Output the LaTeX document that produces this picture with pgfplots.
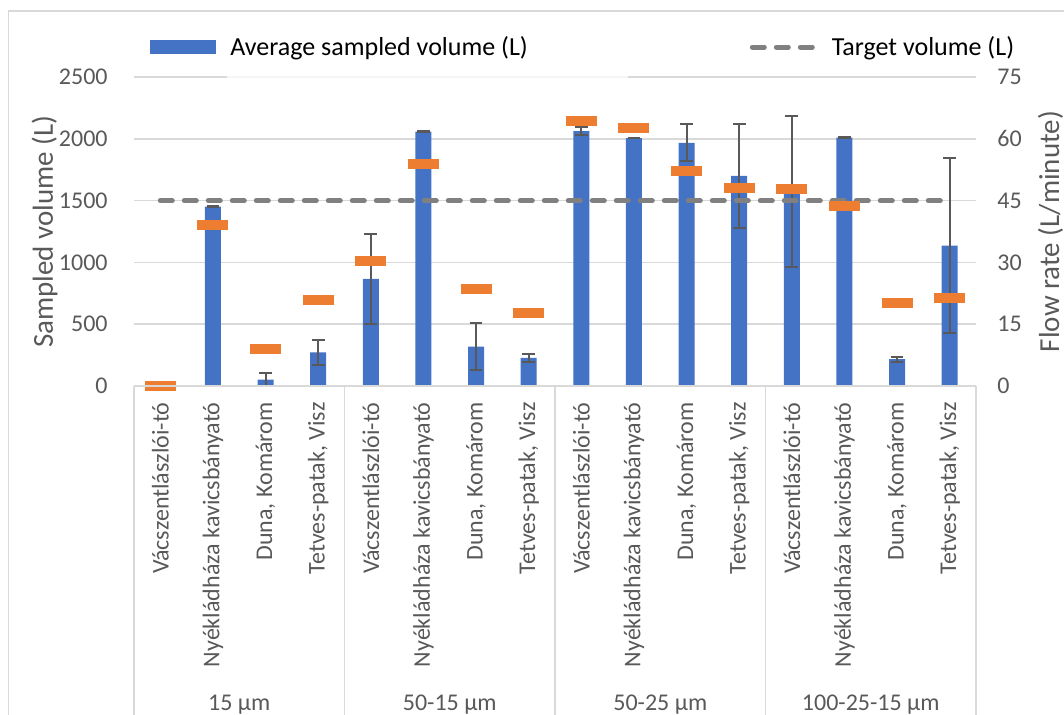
\documentclass[border=0pt]{standalone}
\usepackage{pgfplots}
\usepackage{pgfplotstable}
\pgfplotsset{compat=1.18}
\usetikzlibrary{calc}
\usepackage{fontspec}
\setmainfont{Carlito}

\definecolor{barblue}{HTML}{4472C4}
\definecolor{floworange}{HTML}{ED7D31}
\definecolor{targetgray}{HTML}{808080}
\definecolor{gridgray}{HTML}{D9D9D9}
\definecolor{labelgray}{HTML}{595959}

% rounded orange dash used for the flow rate
\pgfdeclareplotmark{flowbar}{%
  \pgfsetcornersarced{\pgfpoint{1.5pt}{1.5pt}}%
  \pgfpathrectanglecorners{\pgfpoint{-7.75pt}{-2.5pt}}{\pgfpoint{7.75pt}{2.5pt}}%
  \pgfusepathqfill}

% x: site index, vol: average sampled volume (L), err: error, flow: flow rate (L/minute)
\pgfplotstableread{
x  vol   err  flow
0  0     0    0
1  1451  4    39.1
2  52    55   8.9
3  272   98   20.8
4  866   365  30.4
5  2058  3    54.0
6  318   190  23.5
7  228   31   17.8
8  2063  35   64.4
9  2006  3    62.6
10 1968  150  52.3
11 1700  420  48.1
12 1572  612  47.7
13 2009  3    43.7
14 217   20   20.1
15 1136  705  21.3
}\data

\newcommand{\ticksize}{\fontsize{12}{14}\selectfont}
\newcommand{\titlesize}{\fontsize{14.5}{17}\selectfont}

\begin{document}
\begin{tikzpicture}
\useasboundingbox (0pt,0pt) rectangle (532pt,-357pt);
\draw[gridgray, line width=0.75pt] (4.25pt,-360pt) -- (4.25pt,-5.5pt) -- (540pt,-5.5pt);

\begin{axis}[
    name=main,
    at={(67pt,-193pt)}, anchor=south west,
    scale only axis, width=421pt, height=154.5pt,
    xmin=-0.5, xmax=15.5, ymin=0, ymax=2500,
    ytick={0,500,...,2500},
    xtick={0,...,15},
    xticklabels={Vácszentlászlói-tó, Nyékládháza kavicsbányató, {Duna, Komárom}, {Tetves-patak, Visz},
                 Vácszentlászlói-tó, Nyékládháza kavicsbányató, {Duna, Komárom}, {Tetves-patak, Visz},
                 Vácszentlászlói-tó, Nyékládháza kavicsbányató, {Duna, Komárom}, {Tetves-patak, Visz},
                 Vácszentlászlói-tó, Nyékládháza kavicsbányató, {Duna, Komárom}, {Tetves-patak, Visz}},
    xtick pos=bottom, ytick pos=left,
    major tick length=0pt,
    axis line style={draw=none},
    ymajorgrids, grid style={gridgray, line width=0.75pt},
    /pgf/number format/assume math mode=true,
    /pgf/number format/1000 sep={},
    xticklabel style={rotate=90, anchor=east, inner sep=0pt, font=\ticksize, text=labelgray},
    xticklabel shift=8pt,
    yticklabel style={anchor=east, inner sep=0pt, font=\ticksize, text=labelgray},
    yticklabel shift=13pt,
    ylabel={Sampled volume (L)},
    ylabel style={at={(axis description cs:-0.0962,0.5)}, anchor=base, rotate=0, font=\titlesize, text=labelgray},
    legend columns=2,
    legend style={draw=none, fill=none, inner sep=0pt, font=\fontsize{13}{15}\selectfont,
        at={(axis description cs:0.019,1.097)}, anchor=west,
        nodes={inner sep=0pt}, cells={anchor=west},
        /tikz/every even column/.append style={column sep=111pt}},
]
\addplot[ybar, bar width=8pt, fill=barblue, draw=none,
    legend image code/.code={\fill[barblue] (0pt,-3.5pt) rectangle (33pt,3.5pt); \path (40pt,0pt);},
    error bars/.cd, y dir=both, y explicit,
    error bar style={labelgray, line width=1pt},
    error mark options={rotate=90, labelgray, mark size=3.2pt, line width=1pt}]
    table[x=x, y=vol, y error=err]{\data};
\addlegendentry{Average sampled volume (L)}
\addplot[targetgray, line width=2.5pt, dash pattern=on 6pt off 6pt, line cap=round,
    legend image code/.code={\draw[targetgray, line width=2.5pt, dash pattern=on 6pt off 6pt, line cap=round] (1.25pt,0pt) -- (32pt,0pt); \path (39.75pt,0pt);}]
    coordinates {(0,1500) (15,1500)};
\addlegendentry{Target volume (L)}
\end{axis}

\begin{axis}[
    at={(67pt,-193pt)}, anchor=south west,
    scale only axis, width=421pt, height=154.5pt,
    xmin=-0.5, xmax=15.5, ymin=0, ymax=75,
    ytick={0,15,...,75},
    axis y line*=right, axis x line=none,
    y axis line style={draw=none},
    major tick length=0pt,
    clip=false,
    /pgf/number format/assume math mode=true,
    yticklabel style={anchor=west, inner sep=0pt, font=\ticksize, text=labelgray},
    yticklabel shift=10.5pt,
    ylabel={Flow rate (L/minute)},
    ylabel style={at={(axis description cs:1.0986,0.5)}, anchor=base, rotate=0, font=\titlesize, text=labelgray},
]
\addplot[only marks, mark=flowbar, floworange] table[x=x, y=flow]{\data};
\end{axis}

% category axis: base line and group separators
\draw[gridgray, line width=0.75pt] (main.south west) -- (main.south east);
\foreach \f in {0,0.25,0.5,0.75,1}
  \draw[gridgray, line width=0.75pt] ($(main.south west)!\f!(main.south east)$) -- ++(0pt,-170pt);
\foreach \f/\g in {0.125/15 µm, 0.375/50-15 µm, 0.625/50-25 µm, 0.875/100-25-15 µm}
  \node[anchor=base, inner sep=0pt, font=\ticksize, text=labelgray]
    at ($(main.south west)!\f!(main.south east) + (0pt,-162pt)$) {\g};

% faded part of the top gridline behind the legend
\fill[white, opacity=0.75] (113.5pt,-37.6pt) rectangle (314pt,-39.4pt);
\end{tikzpicture}
\end{document}
